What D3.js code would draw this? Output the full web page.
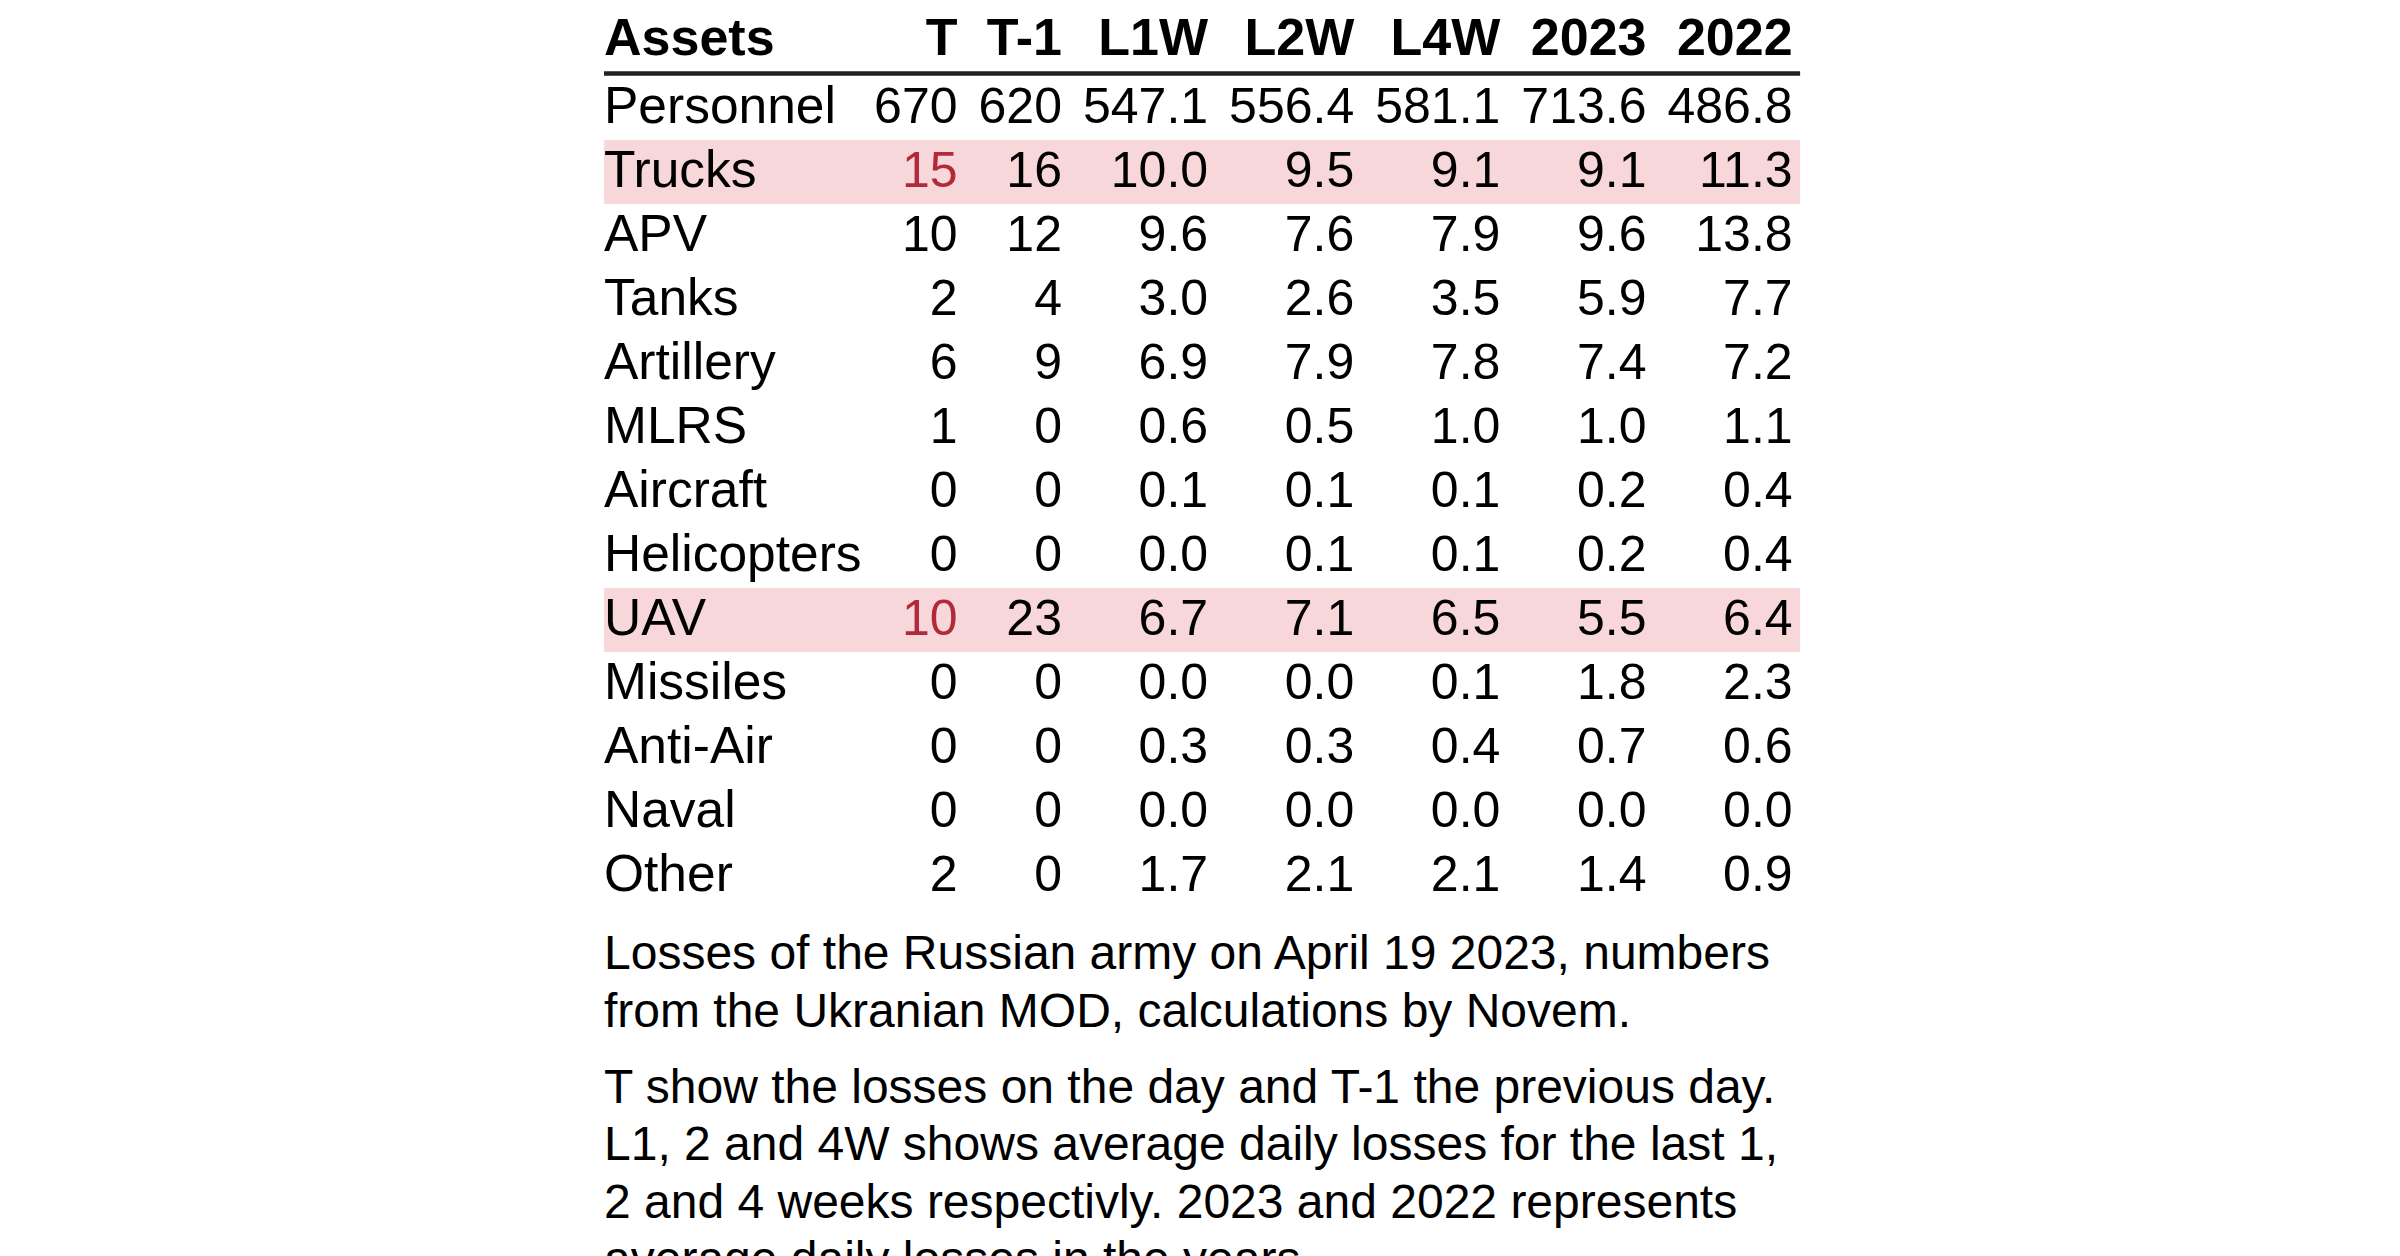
<!DOCTYPE html>
<html lang="en">
<head>
    <meta charset="UTF-8">
    <title>Russian army losses</title>
    <script src="https://d3js.org/d3.v7.min.js"></script>
    <style>
        body { margin: 0; background: #fff; }
        svg { display: block; }
        text { font-family: "Liberation Sans", Arial, sans-serif; fill: #000; }
        .head { font-weight: bold; font-size: 52px; }
        .cell { font-size: 50px; }
        .stub { font-size: 51.5px; }
        .note { font-size: 48px; }
    </style>
</head>
<body>
    <svg></svg>
    <script>
        // table data
        const assets = ["Personnel", "Trucks", "APV", "Tanks", "Artillery", "MLRS", "Aircraft",
            "Helicopters", "UAV", "Missiles", "Anti-Air", "Naval", "Other"];
        const columns = ["T", "T-1", "L1W", "L2W", "L4W", "2023", "2022"];
        const today    = [670, 15, 10, 2, 6, 1, 0, 0, 10, 0, 0, 0, 2];
        const prevDay  = [620, 16, 12, 4, 9, 0, 0, 0, 23, 0, 0, 0, 0];
        const last1w   = [547.1, 10.0, 9.6, 3.0, 6.9, 0.6, 0.1, 0.0, 6.7, 0.0, 0.3, 0.0, 1.7];
        const last2w   = [556.4, 9.5, 7.6, 2.6, 7.9, 0.5, 0.1, 0.1, 7.1, 0.0, 0.3, 0.0, 2.1];
        const last4w   = [581.1, 9.1, 7.9, 3.5, 7.8, 1.0, 0.1, 0.1, 6.5, 0.1, 0.4, 0.0, 2.1];
        const avg2023  = [713.6, 9.1, 9.6, 5.9, 7.4, 1.0, 0.2, 0.2, 5.5, 1.8, 0.7, 0.0, 1.4];
        const avg2022  = [486.8, 11.3, 13.8, 7.7, 7.2, 1.1, 0.4, 0.4, 6.4, 2.3, 0.6, 0.0, 0.9];
        const notes = [
            "Losses of the Russian army on April 19 2023, numbers from the Ukranian MOD, calculations by Novem.",
            "T show the losses on the day and T-1 the previous day. L1, 2 and 4W shows average daily losses for the last 1, 2 and 4 weeks respectivly. 2023 and 2022 represents average daily losses in the years."
        ];

        const series = [today, prevDay, last1w, last2w, last4w, avg2023, avg2022];
        const fmtInt = d3.format("d"), fmtDec = d3.format(".1f");
        const fmt = (ci, v) => ci < 2 ? fmtInt(v) : fmtDec(v);

        // rows where today's losses beat every average get highlighted
        const hot = assets.map((a, i) => today[i] > d3.max([last1w, last2w, last4w, avg2023, avg2022], s => s[i]));

        const W = 2400, H = 1256;
        const tableLeft = 604, tableTop = 76, rowH = 64, pad = 10.5;

        const svg = d3.select("svg").attr("width", W).attr("height", H);

        // measure text to size the columns like an auto-layout table
        function measure(str, cls) {
            const t = svg.append("text").attr("class", cls).text(str);
            const w = t.node().getComputedTextLength();
            t.remove();
            return w;
        }
        const firstW = 2 + d3.max([measure("Assets", "head"), ...assets.map(a => measure(a, "stub"))]);
        const colW = columns.map((c, ci) => d3.max([measure(c, "head"), ...series[ci].map(v => measure(fmt(ci, v), "cell"))]) + 2 * pad);
        const colRight = [];
        let acc = tableLeft + firstW;
        colW.forEach(w => { acc += w; colRight.push(acc - pad); });
        const tableRight = acc - 3;
        const x = d3.scaleOrdinal().domain(columns).range(colRight);

        const y = d3.scaleBand().domain(assets).range([tableTop, tableTop + rowH * assets.length]);

        // header
        svg.append("text").attr("class", "head").attr("x", tableLeft).attr("y", 55).text("Assets");
        svg.append("g").selectAll("text")
            .data(columns)
            .join("text")
            .attr("class", "head")
            .attr("text-anchor", "end")
            .attr("x", d => x(d))
            .attr("y", 55)
            .text(d => d);
        svg.append("line")
            .attr("x1", tableLeft).attr("x2", tableRight)
            .attr("y1", 73.5).attr("y2", 73.5)
            .attr("stroke", "#222").attr("stroke-width", 4.5);

        // highlight bands
        svg.append("g").selectAll("rect")
            .data(assets.filter((a, i) => hot[i]))
            .join("rect")
            .attr("x", tableLeft)
            .attr("y", d => y(d))
            .attr("width", tableRight - tableLeft)
            .attr("height", y.bandwidth())
            .attr("fill", "#f8d7da");

        // body
        const rows = svg.append("g").selectAll("g")
            .data(assets)
            .join("g")
            .attr("transform", d => `translate(0,${y(d) + 47})`);
        rows.append("text")
            .attr("class", "stub")
            .attr("x", tableLeft)
            .text(d => d);
        rows.each(function(a, i) {
            d3.select(this).selectAll("text.val")
                .data(columns)
                .join("text")
                .attr("class", "cell val")
                .attr("text-anchor", "end")
                .attr("x", c => x(c))
                .style("fill", (c, ci) => ci === 0 && hot[i] ? "#b22a3a" : "#000")
                .text((c, ci) => fmt(ci, series[ci][i]));
        });

        // footnote, wrapped to table width
        const maxW = tableRight - tableLeft;
        let base = tableTop + rowH * assets.length + 61;
        const lineH = 57.5;
        notes.forEach(p => {
            const words = p.split(" ");
            const lines = [];
            let cur = "";
            words.forEach(w => {
                const test = cur ? cur + " " + w : w;
                if (cur && measure(test, "note") > maxW) { lines.push(cur); cur = w; }
                else cur = test;
            });
            lines.push(cur);
            svg.append("g").selectAll("text")
                .data(lines)
                .join("text")
                .attr("class", "note")
                .attr("x", tableLeft)
                .attr("y", (d, li) => base + li * lineH)
                .text(d => d);
            base += (lines.length - 1) * lineH + 76;
        });
    </script>
</body>
</html>
